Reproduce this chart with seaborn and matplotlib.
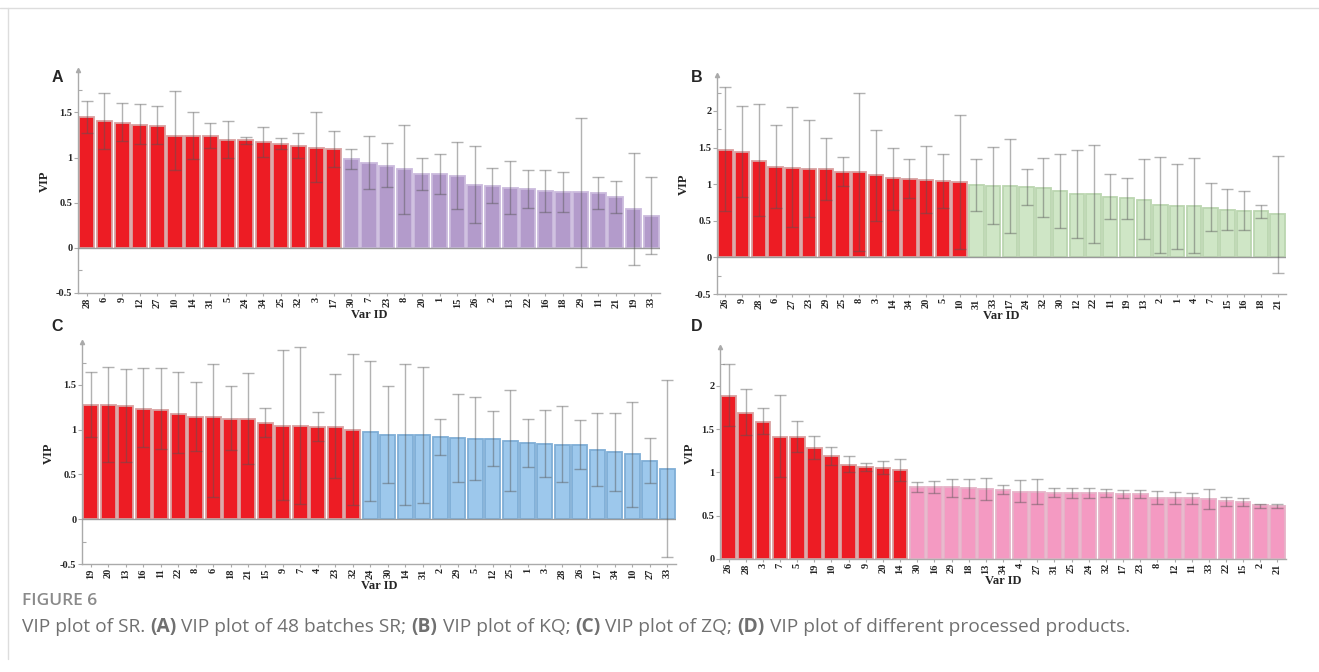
import numpy as np
import pandas as pd
import seaborn as sns
import matplotlib.pyplot as plt
from matplotlib.ticker import FuncFormatter, MultipleLocator

# panel A: 48 batches SR
a_ids = [28, 6, 9, 12, 27, 10, 14, 31, 5, 24, 34, 25, 32, 3, 17, 30, 7, 23, 8, 20, 1, 15, 26, 2, 13, 22, 16, 18, 29, 11, 21, 19, 33]
a_vip = [1.445, 1.40, 1.386, 1.357, 1.353, 1.243, 1.243, 1.24, 1.20, 1.19, 1.17, 1.15, 1.125, 1.11, 1.10,
         0.98, 0.945, 0.91, 0.87, 0.82, 0.816, 0.80, 0.70, 0.69, 0.665, 0.65, 0.63, 0.62, 0.62, 0.61, 0.566, 0.43, 0.357]
a_hi = [1.63, 1.71, 1.61, 1.59, 1.57, 1.74, 1.51, 1.38, 1.41, 1.23, 1.34, 1.22, 1.27, 1.50, 1.29,
        1.09, 1.24, 1.16, 1.36, 1.00, 1.04, 1.17, 1.125, 0.89, 0.96, 0.86, 0.86, 0.84, 1.44, 0.79, 0.74, 1.055, 0.78]
a_lo = [1.27, 1.09, 1.18, 1.15, 1.15, 0.86, 0.98, 1.11, 1.00, 1.15, 1.01, 1.09, 1.00, 0.73, 0.90,
        0.87, 0.65, 0.67, 0.38, 0.64, 0.60, 0.43, 0.27, 0.50, 0.37, 0.44, 0.40, 0.40, -0.21, 0.43, 0.39, -0.19, -0.07]

# panel B: KQ
b_ids = [26, 9, 28, 6, 27, 23, 29, 25, 8, 3, 14, 34, 20, 5, 10, 31, 33, 17, 24, 32, 30, 12, 22, 11, 19, 13, 2, 1, 4, 7, 15, 16, 18, 21]
b_vip = [1.47, 1.445, 1.32, 1.24, 1.22, 1.20, 1.20, 1.17, 1.16, 1.12, 1.08, 1.07, 1.06, 1.04, 1.03,
         0.99, 0.98, 0.97, 0.955, 0.945, 0.90, 0.87, 0.87, 0.83, 0.805, 0.79, 0.71, 0.70, 0.70, 0.68, 0.645, 0.64, 0.63, 0.59]
b_hi = [2.32, 2.06, 2.09, 1.81, 2.05, 1.87, 1.63, 1.37, 2.25, 1.74, 1.50, 1.345, 1.52, 1.41, 1.95,
        1.345, 1.51, 1.61, 1.21, 1.35, 1.41, 1.47, 1.54, 1.145, 1.08, 1.34, 1.37, 1.28, 1.36, 1.01, 0.93, 0.91, 0.71, 1.38]
b_lo = [0.64, 0.83, 0.56, 0.67, 0.41, 0.545, 0.78, 0.98, 0.09, 0.50, 0.65, 0.81, 0.60, 0.67, 0.12,
        0.64, 0.46, 0.33, 0.71, 0.545, 0.40, 0.27, 0.20, 0.52, 0.53, 0.245, 0.055, 0.12, 0.055, 0.355, 0.37, 0.37, 0.54, -0.21]

# panel C: ZQ
c_ids = [19, 20, 13, 16, 11, 22, 8, 6, 18, 21, 15, 9, 7, 4, 23, 32, 24, 30, 14, 31, 2, 29, 5, 12, 25, 1, 3, 28, 26, 17, 34, 10, 27, 33]
c_vip = [1.28, 1.277, 1.26, 1.23, 1.225, 1.18, 1.14, 1.14, 1.12, 1.116, 1.075, 1.04, 1.04, 1.03, 1.03, 1.00,
         0.98, 0.944, 0.944, 0.944, 0.92, 0.91, 0.90, 0.90, 0.876, 0.854, 0.843, 0.83, 0.83, 0.775, 0.753, 0.727, 0.65, 0.56]
c_hi = [1.65, 1.70, 1.675, 1.685, 1.685, 1.64, 1.53, 1.73, 1.49, 1.63, 1.24, 1.89, 1.92, 1.20, 1.62, 1.85,
        1.77, 1.49, 1.73, 1.70, 1.12, 1.40, 1.37, 1.21, 1.446, 1.12, 1.22, 1.26, 1.11, 1.19, 1.19, 1.31, 0.906, 1.55]
c_lo = [0.92, 0.645, 0.645, 0.805, 0.79, 0.74, 0.765, 0.245, 0.775, 0.62, 0.92, 0.21, 0.17, 0.87, 0.46, 0.16,
        0.20, 0.40, 0.16, 0.18, 0.72, 0.415, 0.44, 0.60, 0.315, 0.584, 0.47, 0.415, 0.56, 0.37, 0.315, 0.135, 0.40, -0.42]

# panel D: processed products
d_ids = [26, 28, 3, 7, 5, 19, 10, 6, 9, 20, 14, 30, 16, 29, 18, 13, 34, 4, 27, 31, 25, 24, 32, 17, 23, 8, 12, 11, 33, 22, 15, 2, 21]
d_vip = [1.885, 1.685, 1.585, 1.41, 1.41, 1.28, 1.19, 1.09, 1.065, 1.05, 1.023,
         0.827, 0.827, 0.827, 0.815, 0.81, 0.80, 0.78, 0.78, 0.765, 0.765, 0.765, 0.758, 0.746, 0.746, 0.71, 0.70, 0.70, 0.696, 0.665, 0.654, 0.62, 0.61]
d_hi = [2.25, 1.96, 1.74, 1.89, 1.60, 1.42, 1.30, 1.19, 1.115, 1.127, 1.154,
        0.885, 0.896, 0.93, 0.92, 0.94, 0.86, 0.91, 0.93, 0.82, 0.82, 0.82, 0.81, 0.80, 0.80, 0.79, 0.77, 0.76, 0.81, 0.72, 0.70, 0.64, 0.64]
d_lo = [1.54, 1.43, 1.44, 0.95, 1.235, 1.15, 1.09, 1.00, 1.015, 0.977, 0.90,
        0.77, 0.758, 0.72, 0.71, 0.68, 0.75, 0.66, 0.63, 0.72, 0.71, 0.70, 0.72, 0.70, 0.70, 0.64, 0.64, 0.64, 0.58, 0.615, 0.61, 0.59, 0.59]

RED = '#ED1C24'
W, H = 1319, 672
serif = 'Liberation Serif'

sns.set_theme(style='white')
plt.rcParams['font.family'] = ['Liberation Serif', 'DejaVu Sans']

fig = plt.figure(figsize=(W / 100, H / 100), dpi=100)


def px_axes(left, top, right, bottom):
    return fig.add_axes([left / W, 1 - bottom / H, (right - left) / W, (bottom - top) / H])


def vip_panel(ax, ids, vip, hi, lo, n_red, color, edge, ylim, letter, letter_xy):
    df = pd.DataFrame({'var': [str(i) for i in ids], 'vip': vip,
                       'grp': ['hi'] * n_red + ['lo'] * (len(ids) - n_red)})
    sns.barplot(data=df, x='var', y='vip', hue='grp', palette={'hi': RED, 'lo': color},
                dodge=False, width=0.86, errorbar=None, legend=False, saturation=1, ax=ax)
    for cont, ec in zip(ax.containers, ['#D9A0A0', edge]):
        for p in cont:
            p.set_edgecolor(ec)
            p.set_linewidth(1.3)
    v = np.array(vip)
    ax.errorbar(np.arange(len(ids)), v, yerr=[v - np.array(lo), np.array(hi) - v], fmt='none',
                ecolor='#555555', elinewidth=1.0, capsize=4, capthick=1.0, alpha=0.45, zorder=5)
    if ylim[0] < 0:
        ax.axhline(0, color='#9a9a9a', lw=1.0, zorder=4)
    ax.set_xlim(-0.5, len(ids) - 0.5)
    ax.set_ylim(*ylim)
    for s in ['top', 'right']:
        ax.spines[s].set_visible(False)
    for s in ['left', 'bottom']:
        ax.spines[s].set_color('#aaaaaa')
        ax.spines[s].set_linewidth(1.0)
    ax.plot(0, 1, marker='^', ms=3, color='#aaaaaa', transform=ax.transAxes, clip_on=False)
    ax.yaxis.set_major_locator(MultipleLocator(0.5))
    ax.yaxis.set_minor_locator(MultipleLocator(0.25))
    ax.yaxis.set_major_formatter(FuncFormatter(lambda y, _: f'{y:g}'))
    ax.tick_params(axis='y', which='major', left=True, direction='out', length=3, width=0.8,
                   color='#aaaaaa', labelsize=7.5, pad=1)
    ax.tick_params(axis='y', which='minor', left=True, direction='in', length=3, width=0.8, color='#aaaaaa')
    ax.tick_params(axis='x', bottom=True, direction='out', length=2, width=0.8, color='#aaaaaa',
                   labelsize=7.5, labelrotation=90, pad=1)
    for t in ax.get_xticklabels() + ax.get_yticklabels():
        t.set_fontweight('bold')
        t.set_fontfamily(serif)
    ax.set_xlabel('Var ID', fontsize=9, fontweight='bold', labelpad=1)
    ax.set_ylabel('VIP', fontsize=9, fontweight='bold', labelpad=4)
    fig.text(letter_xy[0] / W, 1 - letter_xy[1] / H, letter, fontsize=11.5, fontweight='bold',
             family='Liberation Sans', ha='center', va='center')


ax_a = px_axes(78, 70, 660, 293)
vip_panel(ax_a, a_ids, a_vip, a_hi, a_lo, 15, '#B39BCB', '#CBBBDD', (-0.5, 1.97), 'A', (57, 78))
ax_b = px_axes(717, 75, 1286, 294)
vip_panel(ax_b, b_ids, b_vip, b_hi, b_lo, 15, '#CFE6C6', '#BBD6B0', (-0.5, 2.49), 'B', (697, 78))
ax_c = px_axes(82, 342, 676, 564)
vip_panel(ax_c, c_ids, c_vip, c_hi, c_lo, 16, '#9DC8EC', '#7FAED6', (-0.5, 1.98), 'C', (57, 327))
ax_d = px_axes(720, 347, 1286, 559)
vip_panel(ax_d, d_ids, d_vip, d_hi, d_lo, 11, '#F49AC2', '#E6B3C8', (0, 2.45), 'D', (697, 327))

# frame lines and caption
fig.add_artist(plt.Line2D([0, 1], [1 - 8 / H, 1 - 8 / H], color='#dddddd', lw=1))
fig.add_artist(plt.Line2D([8 / W, 8 / W], [1 - 8 / H, 0.02], color='#dddddd', lw=1))

cap_font = ['Open Sans', 'DejaVu Sans']
fig.text(22 / W, 1 - 601 / H, 'FIGURE 6', fontsize=12.5, family=cap_font, fontweight='semibold',
         color='#8a8a8a', va='center', ha='left')
pieces = [('VIP plot of SR. ', 'normal'), ('(A)', 'bold'), (' VIP plot of 48 batches SR; ', 'normal'),
          ('(B)', 'bold'), (' VIP plot of KQ; ', 'normal'), ('(C)', 'bold'), (' VIP plot of ZQ; ', 'normal'),
          ('(D)', 'bold'), (' VIP plot of different processed products.', 'normal')]
x0 = 22 / W
renderer = fig.canvas.get_renderer()
for txt, wt in pieces:
    t = fig.text(x0, 1 - 627 / H, txt, fontsize=13.8, family=cap_font, fontweight=wt,
                 color='#707070', va='center', ha='left')
    bb = t.get_window_extent(renderer)
    x0 = bb.x1 / W

fig.savefig('out.png', dpi=100, facecolor='white')
